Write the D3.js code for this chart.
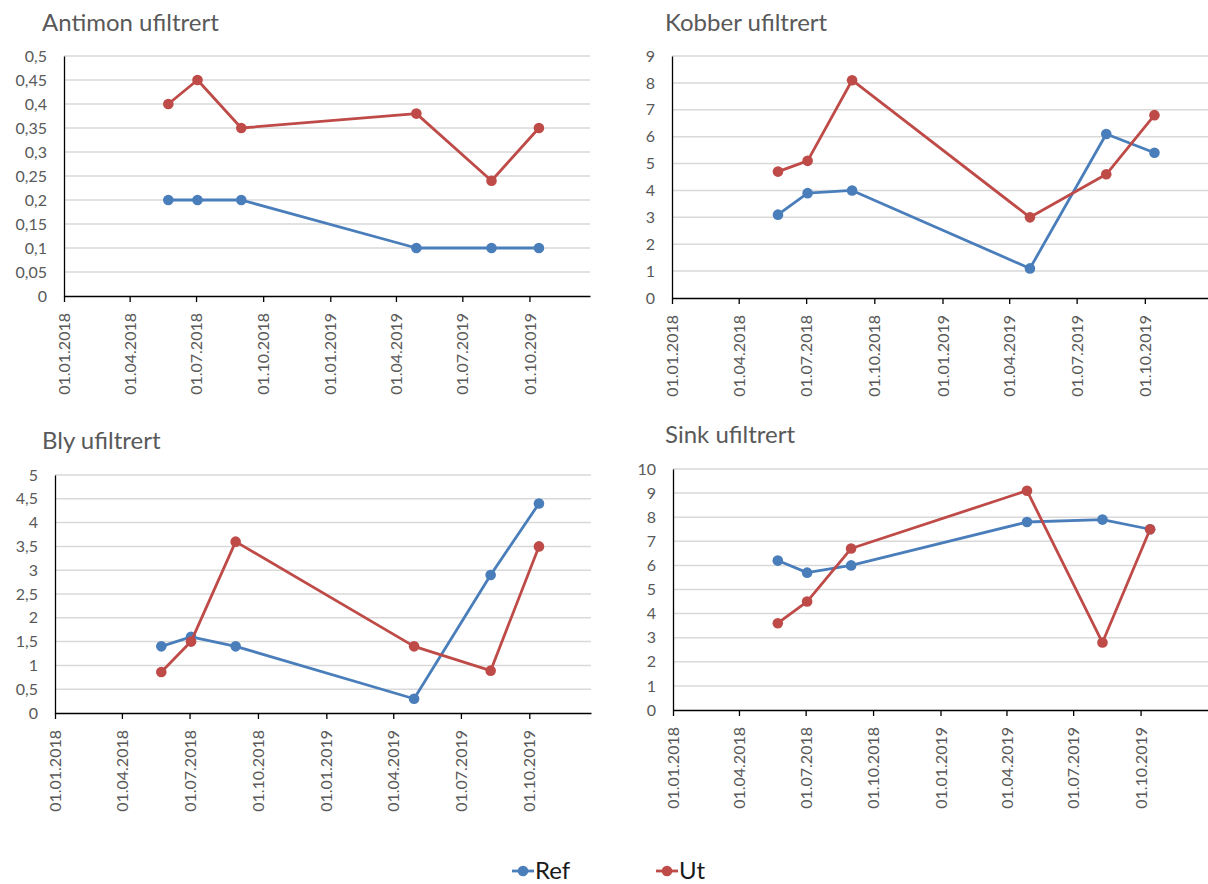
<!DOCTYPE html>
<html lang="no">
<head>
  <meta charset="UTF-8">
  <title>Ufiltrert</title>
  <script src="https://d3js.org/d3.v7.min.js"></script>
  <style>
    body { margin: 0; background: #fff; font-family: Lato, "Open Sans", sans-serif; }
    .grid line { stroke: #d9d9d9; stroke-width: 1.5; }
    .axis path, .axis line { stroke: #000; stroke-width: 1.3; }
    .axis text { fill: #595959; font-size: 16px; font-family: Lato, sans-serif; }
    .title { fill: #595959; font-size: 24px; }
  </style>
</head>
<body>
  <div id="chart"></div>
  <script>
    // sampling dates (same for all four metals)
    const dates = ["2018-05-24", "2018-07-03", "2018-09-01", "2019-04-29", "2019-08-10", "2019-10-14"];

    const antimonRef = [0.2, 0.2, 0.2, 0.1, 0.1, 0.1];
    const antimonUt  = [0.4, 0.45, 0.35, 0.38, 0.24, 0.35];

    const kobberRef = [3.1, 3.9, 4.0, 1.1, 6.1, 5.4];
    const kobberUt  = [4.7, 5.1, 8.1, 3.0, 4.6, 6.8];

    const blyRef = [1.4, 1.6, 1.4, 0.3, 2.9, 4.4];
    const blyUt  = [0.86, 1.5, 3.6, 1.4, 0.89, 3.5];

    const sinkRef = [6.2, 5.7, 6.0, 7.8, 7.9, 7.5];
    const sinkUt  = [3.6, 4.5, 6.7, 9.1, 2.8, 7.5];

    const seriesNames = ["Ref", "Ut"];
    const colors = {Ref: "#4a7ebb", Ut: "#be4b48"};

    // y axis max and step per chart
    const yMax  = [0.5, 9, 5, 10];
    const yStep = [0.05, 1, 0.5, 1];

    // x tick labels: every quarter, last one 01.10.2019
    const xTickDates = ["2018-01-01", "2018-04-01", "2018-07-01", "2018-10-01", "2019-01-01", "2019-04-01", "2019-07-01", "2019-10-01"];

    const parse = d3.utcParse("%Y-%m-%d");
    const fmtDate = d3.utcFormat("%d.%m.%Y");
    const nb = d3.formatLocale({decimal: ",", thousands: " ", grouping: [3], currency: ["", ""]});
    const fmtNum = nb.format("~g");

    const panels = [
      {title: "Antimon ufiltrert", ref: antimonRef, ut: antimonUt, left: 64,  right: 590,  top: 56,  bottom: 296, end: "2019-12-23", tx: 42,  ty: 31},
      {title: "Kobber ufiltrert",  ref: kobberRef,  ut: kobberUt,  left: 672, right: 1213, top: 56,  bottom: 298, end: "2020-01-01", tx: 665, ty: 31},
      {title: "Bly ufiltrert",     ref: blyRef,     ut: blyUt,     left: 55,  right: 591,  top: 475, bottom: 713, end: "2019-12-23", tx: 42,  ty: 449},
      {title: "Sink ufiltrert",    ref: sinkRef,    ut: sinkUt,    left: 673, right: 1208, top: 469, bottom: 710, end: "2020-01-01", tx: 665, ty: 443}
    ];

    const svg = d3.select("#chart").append("svg")
      .attr("width", 1208).attr("height", 884);

    panels.forEach((p, i) => {
      const x = d3.scaleUtc()
        .domain([parse("2018-01-01"), parse(p.end)])
        .range([p.left, p.right]);
      const y = d3.scaleLinear()
        .domain([0, yMax[i]])
        .range([p.bottom, p.top]);

      const yTicks = d3.range(0, Math.round(yMax[i] / yStep[i]) + 1).map(k => +(k * yStep[i]).toFixed(4));

      svg.append("text").attr("class", "title")
        .attr("x", p.tx).attr("y", p.ty).text(p.title);

      // gridlines
      svg.append("g").attr("class", "grid")
        .selectAll("line").data(yTicks.filter(v => v > 0)).join("line")
        .attr("x1", p.left).attr("x2", p.right)
        .attr("y1", d => y(d)).attr("y2", d => y(d));

      // y axis
      svg.append("g").attr("class", "axis")
        .attr("transform", `translate(${p.left},0)`)
        .call(d3.axisLeft(y).tickValues(yTicks).tickSize(0).tickPadding(17).tickFormat(fmtNum));

      // x axis
      const xa = svg.append("g").attr("class", "axis")
        .attr("transform", `translate(0,${p.bottom})`)
        .call(d3.axisBottom(x).tickValues(xTickDates.map(parse)).tickSizeInner(6).tickSizeOuter(0).tickFormat(fmtDate));
      xa.selectAll("text")
        .attr("transform", "rotate(-90)")
        .attr("text-anchor", "end")
        .attr("x", -17).attr("y", 0).attr("dy", "0.35em");

      seriesNames.forEach(s => {
        const vals = s === "Ref" ? p.ref : p.ut;
        const pts = dates.map((d, j) => ({date: parse(d), v: vals[j]}));
        svg.append("path").datum(pts)
          .attr("fill", "none").attr("stroke", colors[s]).attr("stroke-width", 2.8)
          .attr("stroke-linejoin", "round")
          .attr("d", d3.line().x(d => x(d.date)).y(d => y(d.v)));
        svg.append("g").selectAll("circle").data(pts).join("circle")
          .attr("cx", d => x(d.date)).attr("cy", d => y(d.v)).attr("r", 5.3)
          .attr("fill", colors[s]);
      });
    });

    // legend
    const legend = svg.append("g");
    const legendX = [512, 656];
    seriesNames.forEach((s, i) => {
      const g = legend.append("g").attr("transform", `translate(${legendX[i]},871)`);
      g.append("line").attr("x1", 0).attr("x2", 22).attr("stroke", colors[s]).attr("stroke-width", 2.8);
      g.append("circle").attr("cx", 11).attr("r", 5.3).attr("fill", colors[s]);
      g.append("text").attr("x", 23).attr("y", 8).attr("font-size", 24).attr("fill", "#1a1a1a").text(s);
    });
  </script>
</body>
</html>
